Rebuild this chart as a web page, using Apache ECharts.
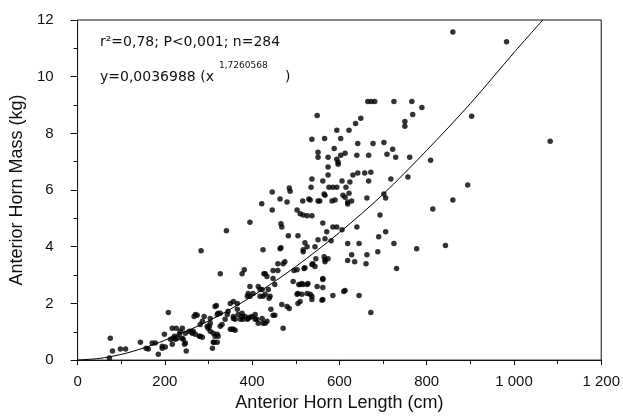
<!DOCTYPE html>
<html>
<head>
<meta charset="utf-8">
<script src="https://cdn.jsdelivr.net/npm/echarts@6/dist/echarts.min.js"></script>
<style>html,body{margin:0;padding:0;background:#fff}#c{width:623px;height:417px}</style>
</head>
<body>
<div id="c"></div>
<script>
// Anterior horn length (cm) and mass (kg) points
const hornPoints = [
[73,0.07],[75,0.77],[80,0.32],[98,0.39],[110,0.39],[144,0.63],[157,0.42],[162,0.39],[171,0.6],[178,0.6],
[185,0.21],[194,0.42],[201,0.46],[194,0.49],[199,0.91],[208,1.68],[213,0.74],[219,0.77],[224,0.74],[217,1.12],
[226,1.12],[217,0.56],[222,0.84],[229,0.77],[233,0.91],[235,1.02],[240,0.77],[242,0.74],[245,0.56],[247,0.6],
[247,0.95],[240,1.12],[249,0.32],[256,1.02],[261,0.98],[263,0.95],[265,1.02],[270,0.91],[279,0.84],[270,1.61],
[274,1.58],[283,3.86],[281,1.26],[286,1.37],[281,0.84],[286,0.81],[290,1.54],[267,1.54],[297,1.19],[299,1.12],
[304,1.02],[302,1.19],[304,1.3],[304,1.47],[309,0.42],[311,0.63],[311,0.95],[313,0.63],[315,0.84],[315,1.89],
[318,1.93],[320,0.63],[320,0.91],[320,1.61],[322,0.84],[322,1.65],[327,1.65],[327,1.19],[327,3.05],[331,1.26],
[338,1.44],[341,4.56],[343,1.61],[345,1.72],[350,2.0],[350,1.09],[354,1.09],[357,1.09],[357,2.07],[357,1.54],
[357,1.47],[361,1.44],[361,1.05],[366,2.0],[366,1.79],[368,1.61],[373,1.44],[377,1.65],[377,1.54],[377,3.05],
[379,1.44],[382,3.19],[384,1.54],[389,1.44],[389,2.25],[391,2.35],[391,1.47],[395,2.25],[395,2.6],[395,1.51],
[395,4.86],[400,1.54],[402,2.35],
[407,1.61],[407,1.44],[411,1.44],[414,2.6],[414,1.3],[418,2.49],[418,2.25],[422,5.52],[423,1.47],[423,2.49],
[425,3.89],[425,2.25],[425,1.3],[427,3.05],[430,1.3],[430,2.32],[430,3.05],[434,1.37],[434,2.95],[437,2.49],
[439,2.18],[441,2.25],[443,1.79],[446,5.93],[446,5.3],[448,2.88],[448,3.16],[448,1.58],[452,2.67],[452,1.58],
[459,3.16],[459,3.4],[464,3.93],[464,5.68],[466,4.81],[468,4.7],[466,3.96],[468,1.96],[471,3.4],[471,1.12],
[475,3.47],[480,1.89],[480,5.58],[483,4.39],[485,6.07],[487,5.96],[485,1.82],[494,2.77],[496,3.16],
[503,5.3],[503,2.32],[503,3.19],[505,2.35],[505,2.0],[510,2.07],[505,4.39],[507,2.67],[510,5.16],[510,2.67],
[514,2.7],[514,2.32],[516,5.61],[517,5.12],[517,2.67],[517,3.89],[517,3.82],[519,3.23],[521,4.14],[521,3.26],
[526,5.09],[526,2.67],[526,4.0],[526,2.35],[528,2.7],[530,5.68],[533,2.32],[533,5.65],[535,6.1],[537,5.09],
[537,2.25],[537,2.14],[537,3.37],[537,6.39],[537,7.79],[539,3.4],[544,3.3],[544,4.0],[546,3.58],[549,8.63],
[549,2.6],[551,4.25],[551,7.33],[551,7.16],[551,5.61],[555,5.61],[560,2.11],[562,2.88],[562,2.56],[562,2.84],
[562,2.14],[562,4.84],[562,6.32],[565,3.65],[565,5.86],[566,7.82],[567,3.47],[567,3.54],[567,5.82],[567,4.28],
[571,4.53],[574,3.58],[574,6.81],[574,6.53],[574,7.16],[576,6.1],[581,4.21],[583,5.61],[585,6.1],[585,2.28],
[585,4.7],[588,7.47],[590,5.65],[594,8.11],[594,6.1],[594,7.09],[594,4.7],[597,6.98],[597,6.91],[603,7.82],
[603,7.23],[606,6.32],[606,4.6],[608,5.82],
[610,2.42],[613,2.46],[613,7.3],[613,5.75],[615,6.1],[619,5.58],[619,5.51],[619,4.11],[619,3.51],[622,8.11],
[622,5.89],[624,6.28],[628,5.61],[628,3.72],[631,6.53],[635,3.47],[637,8.35],[640,7.23],[640,4.7],[642,7.64],
[642,6.6],[645,4.11],[645,2.28],[649,8.53],[658,6.6],[661,3.4],[663,5.72],[663,3.72],[665,9.12],[667,7.23],
[667,6.32],[672,6.63],[672,1.68],[673,9.12],[677,7.64],[681,9.12],[688,3.82],[690,4.35],[693,5.12],
[702,7.68],[702,5.86],[706,5.72],[706,4.53],[709,7.26],[718,6.39],[722,7.44],[725,9.12],[725,4.11],[729,7.16],
[731,3.23],[750,8.42],[750,8.25],[757,6.46],[761,7.16],[766,9.12],[768,8.67],[777,3.93],[789,8.91],[809,7.05],
[814,5.33],[843,4.04],[860,11.58],[860,5.65],[894,6.18],[903,8.6],[983,11.23],[1083,7.72]
];
// fitted curve
const curveX = [0, 50, 100, 150, 200, 300, 400, 500, 600, 700, 800, 900, 1000, 1066];
const curveY = [0, 0.06, 0.2, 0.42, 0.7, 1.38, 2.25, 3.3, 4.5, 5.85, 7.4, 9.05, 10.85, 12];
const xTicks = [0, 200, 400, 600, 800, 1000, 1200];
const yTicks = [0, 2, 4, 6, 8, 10, 12];
const statText = "r²=0,78; P<0,001; n=284";
const eqText = "y=0,0036988 (x";
const eqExp = "1,7260568";

const FONT = "'Liberation Sans', Arial, sans-serif";
const NFONT = "'DejaVu Sans', sans-serif";
const chart = echarts.init(document.getElementById('c'), null, {renderer: 'canvas'});
chart.setOption({
  animation: false,
  backgroundColor: '#fff',
  grid: {left: 77, right: 21, top: 20, bottom: 53, show: true, borderColor: '#111', borderWidth: 1, backgroundColor: 'transparent'},
  xAxis: {
    type: 'value', min: xTicks[0], max: xTicks[xTicks.length - 1], interval: 200,
    name: 'Anterior Horn Length (cm)', nameLocation: 'middle', nameGap: 33,
    nameTextStyle: {fontFamily: FONT, fontSize: 18, color: '#111'},
    axisLine: {show: true, lineStyle: {color: '#111', width: 1}},
    axisTick: {show: true, inside: false, length: 5, lineStyle: {color: '#111'}},
    minorTick: {show: true, splitNumber: 2, length: 4, lineStyle: {color: '#111'}},
    splitLine: {show: false},
    axisLabel: {fontFamily: FONT, fontSize: 15, color: '#111', margin: 14,
      formatter: v => v >= 1000 ? String(v).replace(/(\d)(\d{3})$/, '$1 $2') : String(v)}
  },
  yAxis: {
    type: 'value', min: yTicks[0], max: yTicks[yTicks.length - 1], interval: 2,
    name: 'Anterior Horn Mass (kg)', nameLocation: 'middle', nameGap: 46,
    nameTextStyle: {fontFamily: FONT, fontSize: 18, color: '#111'},
    axisLine: {show: true, lineStyle: {color: '#111', width: 1}},
    axisTick: {show: true, inside: false, length: 7, lineStyle: {color: '#111'}},
    minorTick: {show: true, splitNumber: 2, length: 4, lineStyle: {color: '#111'}},
    splitLine: {show: false},
    axisLabel: {fontFamily: FONT, fontSize: 15, color: '#111', margin: 24}
  },
  series: [
    {type: 'scatter', data: hornPoints, symbol: 'circle', symbolSize: 5.5,
     itemStyle: {color: '#000'}, silent: true},
    {type: 'line', data: curveX.map((x, i) => [x, curveY[i]]), smooth: 0.3, showSymbol: false,
     lineStyle: {color: '#000', width: 1}, clip: true, silent: true}
  ],
  graphic: [
    {type: 'text', left: 100, top: 35, style: {text: statText, font: "14px " + NFONT, fill: '#111'}},
    {type: 'text', left: 100, top: 70, style: {text: eqText, font: "14px " + NFONT, fill: '#111'}},
    {type: 'text', left: 219, top: 61, style: {text: eqExp, font: "9px " + NFONT, fill: '#111'}},
    {type: 'text', left: 285, top: 70, style: {text: ")", font: "14px " + NFONT, fill: '#111'}}
  ]
});
</script>
</body>
</html>
